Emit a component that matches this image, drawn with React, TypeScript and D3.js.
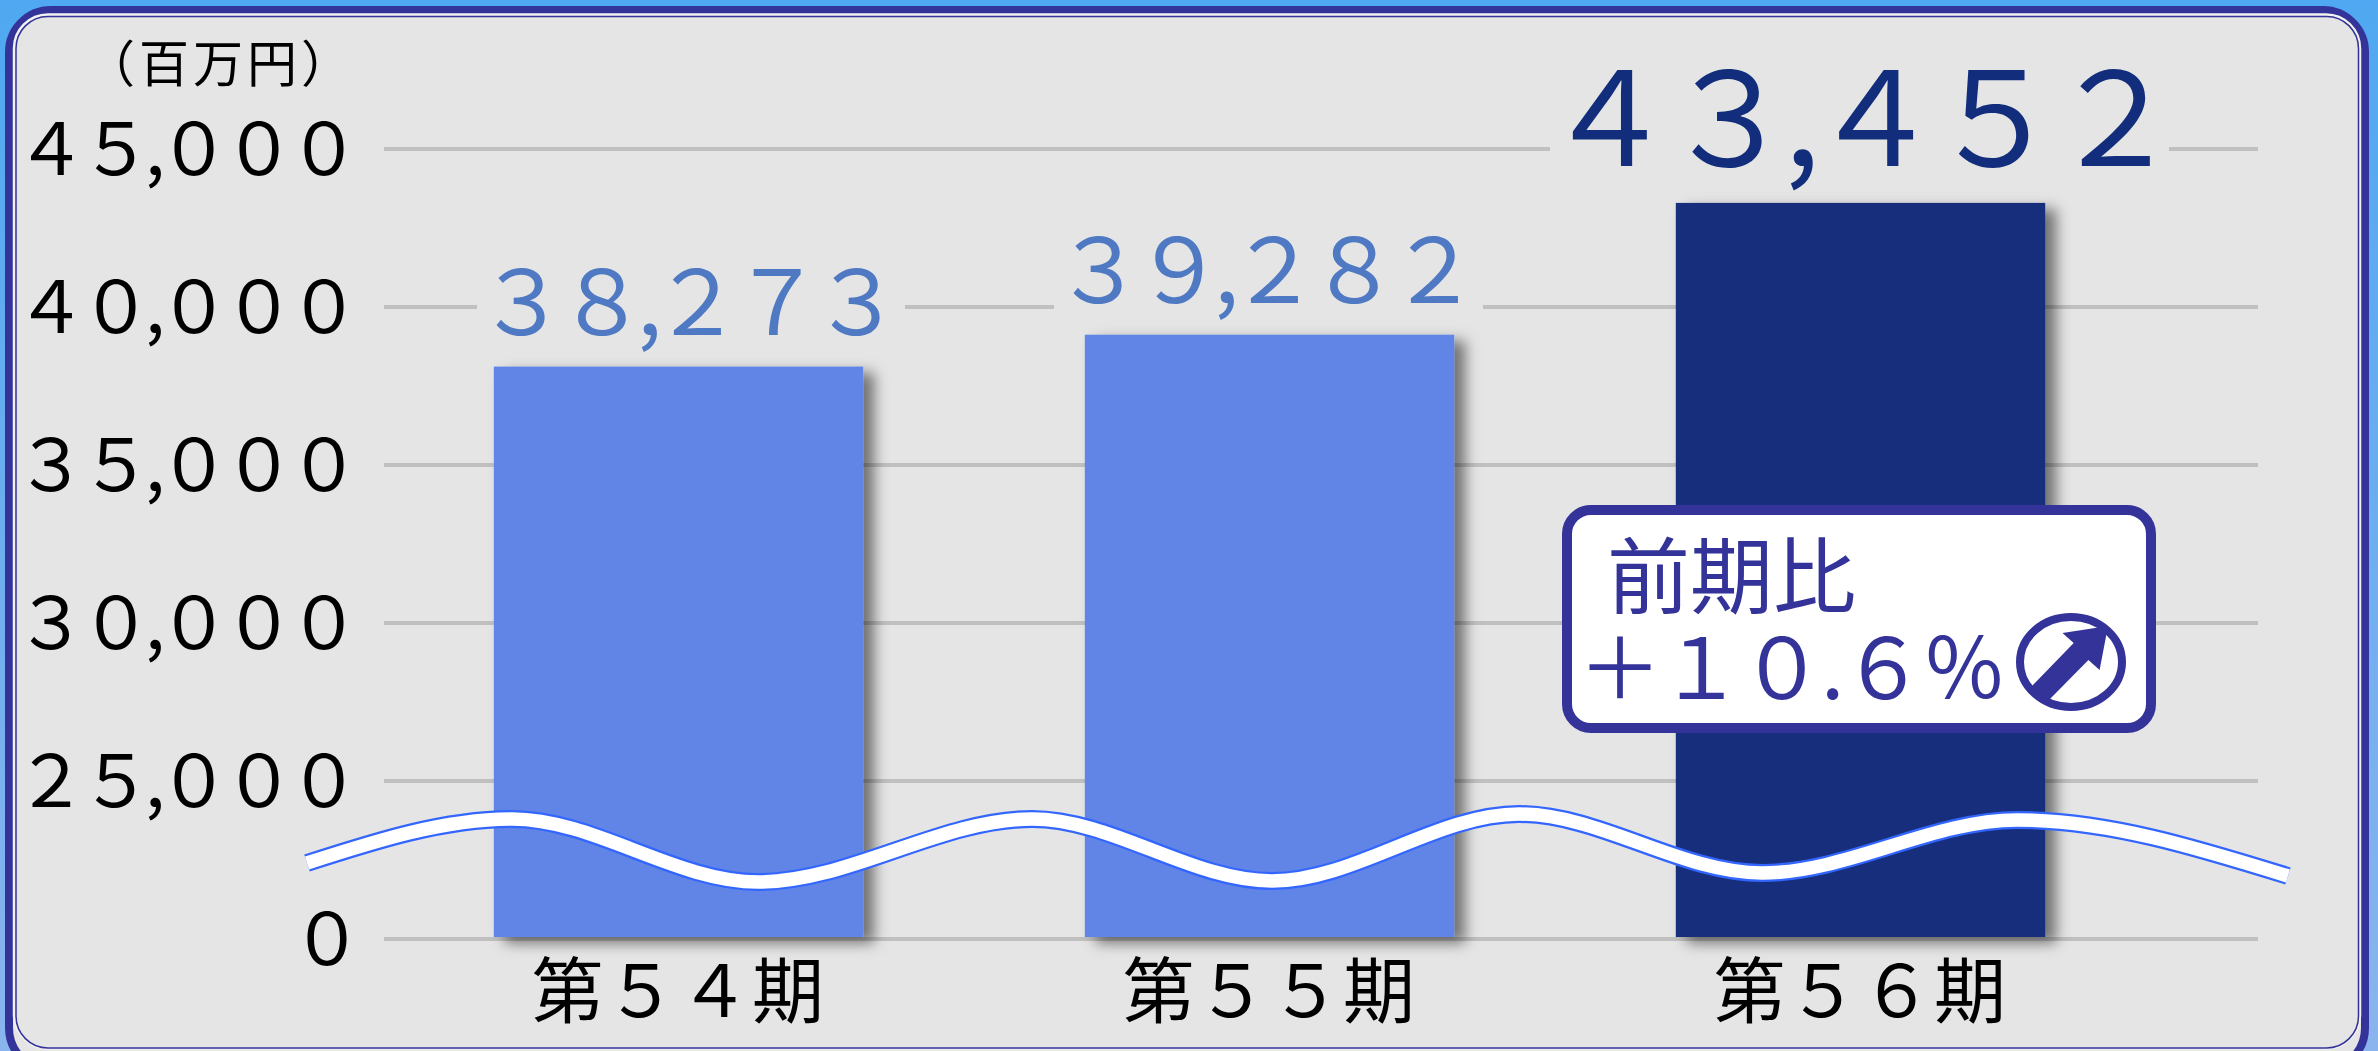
import React from "react";
import * as d3 from "d3";

const categories = ["第５４期", "第５５期", "第５６期"];
const values = [38273, 39282, 43452];
const valueLabels = ["３８,２７３", "３９,２８２", "４３,４５２"];
const tickValues = [0, 25000, 30000, 35000, 40000, 45000];
const tickLabels = ["０", "２５,０００", "３０,０００", "３５,０００", "４０,０００", "４５,０００"];
const barColors = ["#6085e6", "#6085e6", "#122d7b"];
const labelColors = ["#4f79c2", "#4f79c2", "#122d7b"];
const unitLabel = "（百万円）";
const compareTitle = "前期比";
const compareValue = "＋１０.６％";
const waveXs = [307, 512, 758, 1032, 1272, 1519, 1762, 2017, 2288];
const waveYs = [863, 819, 882, 819, 881, 814, 873, 820, 876];
const arrowXs = [2108, 2062.5, 2073.7, 2031, 2049, 2088.4, 2099.6];
const arrowYs = [626, 633, 643, 687, 700, 660, 670];

const FONT = "'Noto Sans CJK JP', sans-serif";
const NAVY = "#333399";

export default function App() {
  const W = 2378, H = 1051;
  const gridY = d3.scaleLinear().domain([0, 25000, 45000]).range([939, 781, 149]);
  const barY = d3.scaleLinear().domain([0, 25000, 45000]).range([937, 786, 154]);
  const x = d3.scaleBand<string>().domain(categories).range([383, 2156]).paddingInner(0.375).paddingOuter(0.1875);

  const wave = d3.line<number>().x((d) => waveXs[d]).y((d) => waveYs[d]).curve(d3.curveMonotoneX)(waveXs.map((_, i) => i)) as string;
  const arrow = d3.line<number>().x((d) => arrowXs[d]).y((d) => arrowYs[d]).curve(d3.curveLinearClosed)(arrowXs.map((_, i) => i)) as string;

  const gaps = [
    { l: 477, r: 905, line: 40000 },
    { l: 1054, r: 1483, line: 40000 },
    { l: 1550, r: 2169, line: 45000 },
  ];
  const labelPos = [
    { x: 477, base: 335, size: 90, ls: -10 },
    { x: 1054, base: 303, size: 90, ls: -10 },
    { x: 1544, base: 166, size: 130, ls: -10 },
  ];

  return (
    <svg
      width={W}
      height={H}
      viewBox={`0 0 ${W} ${H}`}
      style={{ position: "absolute", left: 0, top: 0, display: "block" }}
      fontFamily={FONT}
    >
      <defs>
        <linearGradient id="bg" x1="0" y1="0" x2="0" y2="1">
          <stop offset="0" stopColor="#4fa8f1" />
          <stop offset="1" stopColor="#8ab4ee" />
        </linearGradient>
        <filter id="shadow" x="-10%" y="-10%" width="130%" height="120%">
          <feDropShadow dx="11" dy="6" stdDeviation="7" floodColor="#000" floodOpacity="0.5" />
        </filter>
      </defs>
      <rect width={W} height={H} fill="url(#bg)" />
      <rect x={9} y={10} width={2356} height={1060} rx={42} fill="#e5e5e5" stroke={NAVY} strokeWidth={8} />
      <rect x={14} y={14.5} width={2346} height={1034} rx={34} fill="none" stroke="#f2f2f2" strokeWidth={2.5} />
      <rect x={16} y={16.5} width={2342.5} height={1031.5} rx={32} fill="none" stroke={NAVY} strokeWidth={1.5} />

      {tickValues.map((t) => (
        <line key={t} x1={384} x2={2258} y1={gridY(t)} y2={gridY(t)} stroke="#c0c0c0" strokeWidth={4} />
      ))}
      {tickLabels.map((t, i) => (
        <text
          key={t}
          x={tickValues[i] === 0 ? 291 : 15}
          y={gridY(tickValues[i]) + 26}
          fontSize={72}
          letterSpacing={-7}
          fill="#000"
        >
          {t}
        </text>
      ))}
      <text x={85} y={82} fontSize={50} fill="#000" letterSpacing={4}>
        {unitLabel}
      </text>

      {categories.map((c, i) => (
        <g key={c}>
          <rect x={gaps[i].l} y={gridY(gaps[i].line) - 4} width={gaps[i].r - gaps[i].l} height={8} fill="#e5e5e5" />
          <rect
            x={x(c)}
            y={barY(values[i])}
            width={x.bandwidth()}
            height={barY(0) - barY(values[i])}
            fill={barColors[i]}
            filter="url(#shadow)"
          />
          <text
            x={labelPos[i].x}
            y={labelPos[i].base}
            fontSize={labelPos[i].size}
            letterSpacing={labelPos[i].ls}
            fill={labelColors[i]}
          >
            {valueLabels[i]}
          </text>
          <text
            x={(x(c) as number) + x.bandwidth() / 2}
            y={1017}
            textAnchor="middle"
            fontSize={72}
            letterSpacing={1.5}
            fill="#000"
          >
            {c}
          </text>
        </g>
      ))}

      <path d={wave} fill="none" stroke="#3366ff" strokeWidth={18} />
      <path d={wave} fill="none" stroke="#fff" strokeWidth={13.5} />

      <rect x={1567} y={510} width={584} height={218} rx={24} fill="#fff" stroke={NAVY} strokeWidth={10} />
      <text x={1607} y={607} fontSize={83} fill={NAVY}>
        {compareTitle}
      </text>
      <text x={1578} y={699} fontSize={84} letterSpacing={-3} fill={NAVY}>
        {compareValue}
      </text>
      <ellipse cx={2071} cy={662} rx={51} ry={45} fill="#fff" stroke={NAVY} strokeWidth={8} />
      <path d={arrow} fill={NAVY} />
    </svg>
  );
}
